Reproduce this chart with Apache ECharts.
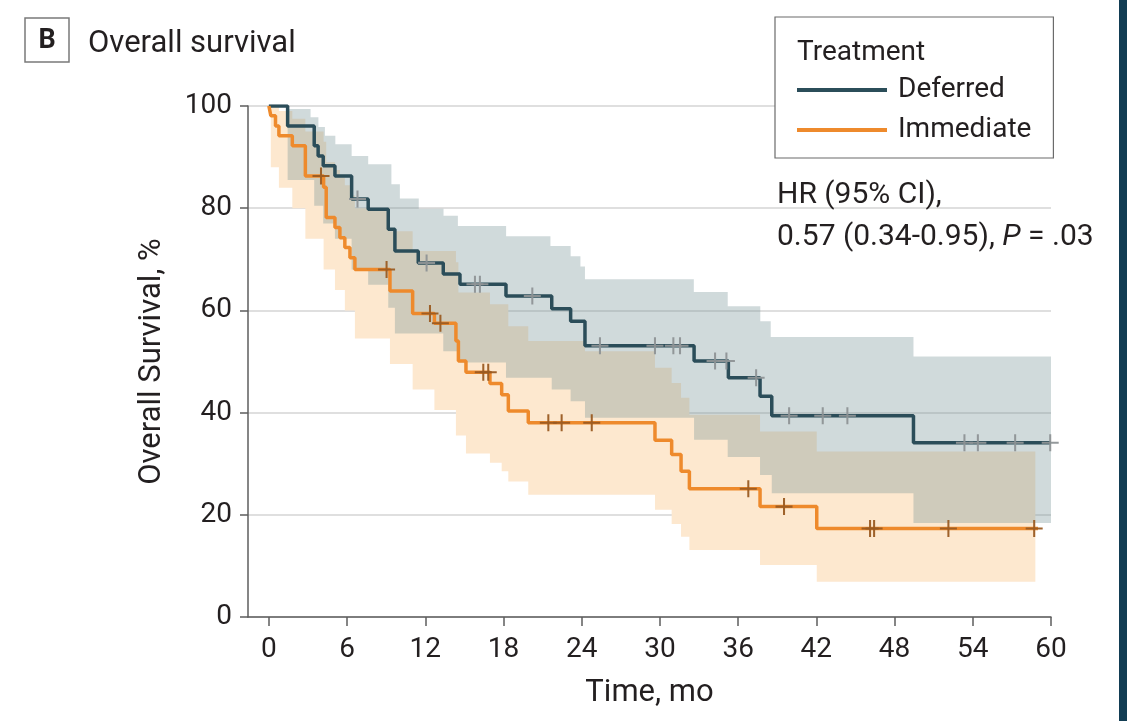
<!DOCTYPE html>
<html><head><meta charset="utf-8">
<script src="https://cdn.jsdelivr.net/npm/echarts@6/dist/echarts.min.js"></script>
<style>html,body{margin:0;padding:0;background:#fff}#c{width:1127px;height:721px}</style>
</head><body><div id="c"></div>
<script>
// ---- tick labels ----
const xTicks = [0, 6, 12, 18, 24, 30, 36, 42, 48, 54, 60];
const seriesNames = ['Deferred', 'Immediate'];

// ---- Kaplan-Meier step values (time in months, survival %) ----
const deferredT = [0, 1.44, 3.48, 3.78, 4.17, 5.07, 6.35, 7.62, 9.16, 9.67, 11.46, 13.38, 14.66, 18.19, 21.70, 23.15, 24.25, 32.62, 35.25, 37.68, 38.58, 49.45, 60];
const deferredS = [100, 96.1, 92.2, 90.2, 88.3, 86.3, 81.8, 79.8, 75.9, 71.6, 69.3, 67.1, 65.1, 62.8, 60.3, 57.9, 53.1, 50.1, 46.8, 43.2, 39.4, 34.1, 34.1];

const immediateT = [0, 0.15, 0.51, 0.77, 1.8, 2.8, 4.2, 4.4, 5.07, 5.45, 5.83, 6.22, 6.6, 9.29, 11.03, 12.7, 14.35, 14.54, 15.12, 16.96, 17.86, 18.37, 19.9, 29.62, 30.9, 31.62, 32.26, 37.68, 42.03, 59.0];
const immediateS = [100, 98.1, 96.1, 94.2, 92.2, 86.3, 84.1, 78.2, 76.2, 74.2, 72.3, 70.3, 68.0, 63.8, 59.4, 57.5, 54.0, 50.1, 47.9, 45.7, 43.5, 40.3, 38.0, 34.6, 31.8, 28.5, 25.1, 21.6, 17.3, 17.3];

// ---- censoring marks ----
const deferredCensT = [6.8, 12.1, 15.81, 16.19, 20.21, 25.40, 29.62, 31.03, 31.54, 34.23, 35.1, 37.38, 39.91, 42.49, 44.38, 53.36, 54.39, 57.25, 59.94];
const deferredCensS = [81.8, 69.3, 65.1, 65.1, 62.8, 53.1, 53.1, 53.1, 53.1, 50.1, 50.1, 46.8, 39.4, 39.4, 39.4, 34.1, 34.1, 34.1, 34.1];
const immediateCensT = [4.0, 9.03, 12.36, 13.16, 16.45, 16.83, 21.44, 22.46, 24.77, 36.78, 39.52, 46.12, 46.43, 52.13, 58.71];
const immediateCensS = [86.3, 68.0, 59.4, 57.5, 47.9, 47.9, 38.0, 38.0, 38.0, 25.1, 21.6, 17.3, 17.3, 17.3, 17.3];

// ---- 95% CI bands (step functions) ----
const deferredHiT = [0, 1.44, 3.2, 3.8, 4.3, 5.1, 6.35, 7.62, 9.4, 10.05, 11.5, 13.4, 14.5, 18.2, 21.6, 23.15, 23.9, 24.25, 32.6, 35.2, 37.7, 38.5, 49.45];
const deferredHi  = [100, 99.4, 97.8, 95.9, 94.2, 92.5, 90.2, 88.6, 84.7, 81.9, 79.9, 78.5, 76.5, 74.5, 72.6, 70.6, 68.6, 66.1, 63.6, 60.8, 57.9, 54.8, 51.0];
const deferredLoT = [0, 1.44, 3.48, 4.17, 5.07, 6.35, 7.62, 9.16, 9.67, 13.38, 14.66, 18.19, 21.7, 23.15, 24.25, 32.62, 35.2, 37.68, 38.58, 49.45];
const deferredLo  = [100, 85.5, 80.5, 77, 74, 68, 65, 60.5, 55.5, 52, 49.8, 46.8, 44.5, 42.2, 39.0, 34.7, 31.3, 27.8, 24.2, 18.4];
const deferredBandEnd = 60;

const immediateHiT = [0, 0.77, 1.8, 2.8, 4.2, 4.4, 5.07, 5.45, 5.83, 6.22, 6.6, 9.29, 11.03, 14.35, 14.54, 16.96, 18.37, 19.9, 24.25, 29.62, 30.9, 31.62, 32.26, 37.68, 42.03];
const immediateHi  = [100, 99, 97.5, 95, 93, 89, 87.5, 86, 84.5, 82.5, 80, 75.5, 71.6, 69.4, 63.5, 61.2, 56.9, 54, 52.0, 48.8, 45.8, 42.9, 39.6, 36.3, 32.4];
const immediateLoT = [0, 0.15, 0.77, 1.8, 2.8, 4.2, 5.07, 5.83, 6.6, 9.29, 11.03, 12.7, 14.35, 15.12, 16.96, 17.86, 18.37, 19.9, 29.62, 30.9, 31.62, 32.26, 37.68, 42.03];
const immediateLo  = [100, 88, 84, 80, 74, 68, 64, 60, 54.5, 49.5, 44.5, 40.5, 35.5, 32, 30.2, 28.5, 26.5, 23.9, 21.0, 18.2, 15.7, 13.1, 10.2, 6.9];
const immediateBandEnd = 58.8;

// ---- styling ----
const FONT = 'Roboto';
const TXT = '#231f20';
const AX = '#5e5e5e';
const C_DEF = '#2b4d59';
const C_IMM = '#ee8a2c';

function stepPoints(ts, vs, tEnd) {
  const pts = [];
  for (let i = 0; i < ts.length; i++) {
    const tNext = i + 1 < ts.length ? ts[i + 1] : tEnd;
    pts.push([ts[i], vs[i]], [tNext, vs[i]]);
  }
  return pts;
}
function bandSeries(hiT, hi, loT, lo, tEnd, color, z) {
  return {
    type: 'custom', coordinateSystem: 'cartesian2d', data: [[0, 0]], z: z, silent: true, clip: true,
    renderItem: function (params, api) {
      const up = stepPoints(hiT, hi, tEnd);
      const dn = stepPoints(loT, lo, tEnd).reverse();
      const points = up.concat(dn).map(function (p) { return api.coord(p); });
      return { type: 'polygon', shape: { points: points }, style: { fill: color } };
    }
  };
}
const CROSS = 'path://M8.8,0 L11.2,0 L11.2,20 L8.8,20 Z M0,8.8 L20,8.8 L20,11.2 L0,11.2 Z';
function zip(a, b) { return a.map(function (t, i) { return [t, b[i]]; }); }

const chart = echarts.init(document.getElementById('c'), null, { renderer: 'canvas' });
chart.setOption({
  animation: false,
  backgroundColor: '#ffffff',
  textStyle: { fontFamily: FONT },
  grid: { left: 248, right: 76, top: 106, bottom: 104, containLabel: false, outerBoundsMode: 'none' },
  title: [
    { text: 'Overall survival', left: 88, top: 25, padding: 0,
      textStyle: { fontSize: 31, fontWeight: 'normal', color: TXT, fontFamily: FONT, lineHeight: 38 } },
    { text: 'Treatment', left: 797, top: 37, padding: 0, z: 12,
      textStyle: { fontSize: 28, fontWeight: 'normal', color: TXT, fontFamily: FONT, lineHeight: 32 } },
    { text: '{a|HR (95% CI),}\n{a|0.57 (0.34-0.95), }{i|P}{a| = .03}', left: 777, top: 174, padding: 0, z: 12,
      textStyle: { fontSize: 30, fontWeight: 'normal', color: TXT, fontFamily: FONT, lineHeight: 42,
        rich: { a: { fontSize: 30, color: TXT, fontFamily: FONT, lineHeight: 42 },
                i: { fontSize: 30, color: TXT, fontFamily: FONT, fontStyle: 'italic', lineHeight: 42 } } } }
  ],
  legend: {
    data: seriesNames, orient: 'vertical', left: 775, top: 17,
    padding: [59, 22, 14, 22], itemGap: 12, itemWidth: 90, itemHeight: 4, icon: 'rect',
    backgroundColor: '#ffffff', borderColor: '#6b6b6b', borderWidth: 1.2, borderRadius: 0, z: 10,
    textStyle: { fontSize: 28, color: TXT, fontFamily: FONT, lineHeight: 28, padding: [0, 0, 0, 6] }
  },
  xAxis: {
    type: 'value', min: -1.6, max: 60,
    name: 'Time, mo', nameLocation: 'middle', nameGap: 61,
    nameTextStyle: { fontSize: 31, color: TXT, fontFamily: FONT },
    axisLine: { show: true, onZero: false, lineStyle: { color: AX, width: 1.5 } },
    axisTick: { show: true, customValues: xTicks, length: 9, lineStyle: { color: AX, width: 1.5 } },
    axisLabel: { customValues: xTicks, fontSize: 28, margin: 19, color: TXT, fontFamily: FONT },
    splitLine: { show: false }
  },
  yAxis: {
    type: 'value', min: 0, max: 100, interval: 20,
    name: 'Overall Survival, %', nameLocation: 'middle', nameGap: 80, nameRotate: 90,
    nameTextStyle: { fontSize: 31, color: TXT, fontFamily: FONT },
    axisLine: { show: true, onZero: false, lineStyle: { color: AX, width: 1.5 } },
    axisTick: { show: true, length: 8, lineStyle: { color: AX, width: 1.5 } },
    axisLabel: { fontSize: 28, margin: 16, color: TXT, fontFamily: FONT },
    splitLine: { show: true, lineStyle: { color: '#d4d4d4', width: 1.5 } }
  },
  graphic: [
    { type: 'rect', shape: { x: 25, y: 18, width: 44, height: 44 }, style: { fill: '#ffffff', stroke: '#7a7a7a', lineWidth: 1.5 }, z: 20 },
    { type: 'text', style: { text: 'B', x: 47, y: 41, align: 'center', verticalAlign: 'middle', fontSize: 27, fontWeight: 'bold', fontFamily: FONT, fill: TXT }, z: 21 },
    { type: 'rect', shape: { x: 1119, y: 0, width: 8, height: 721 }, style: { fill: '#123d53' }, z: 20 }
  ],
  series: [
    bandSeries(immediateHiT, immediateHi, immediateLoT, immediateLo, immediateBandEnd, '#fde8cf', 1),
    bandSeries(deferredHiT, deferredHi, deferredLoT, deferredLo, deferredBandEnd, 'rgba(117,146,149,0.34)', 2),
    { type: 'line', name: seriesNames[0], data: zip(deferredT, deferredS), step: 'end', showSymbol: false, symbol: 'none',
      lineStyle: { width: 3.5, color: C_DEF }, itemStyle: { color: C_DEF }, z: 3 },
    { type: 'line', name: seriesNames[1], data: zip(immediateT, immediateS), step: 'end', showSymbol: false, symbol: 'none',
      lineStyle: { width: 3.5, color: C_IMM }, itemStyle: { color: C_IMM }, z: 3 },
    { type: 'scatter', data: zip(deferredCensT, deferredCensS), symbol: CROSS, symbolSize: [17, 17], silent: true,
      itemStyle: { color: '#8e9496', opacity: 0.95 }, z: 4 },
    { type: 'scatter', data: zip(immediateCensT, immediateCensS), symbol: CROSS, symbolSize: [17, 17], silent: true,
      itemStyle: { color: '#9a5b22', opacity: 0.95 }, z: 4 }
  ]
});
</script>
</body></html>
